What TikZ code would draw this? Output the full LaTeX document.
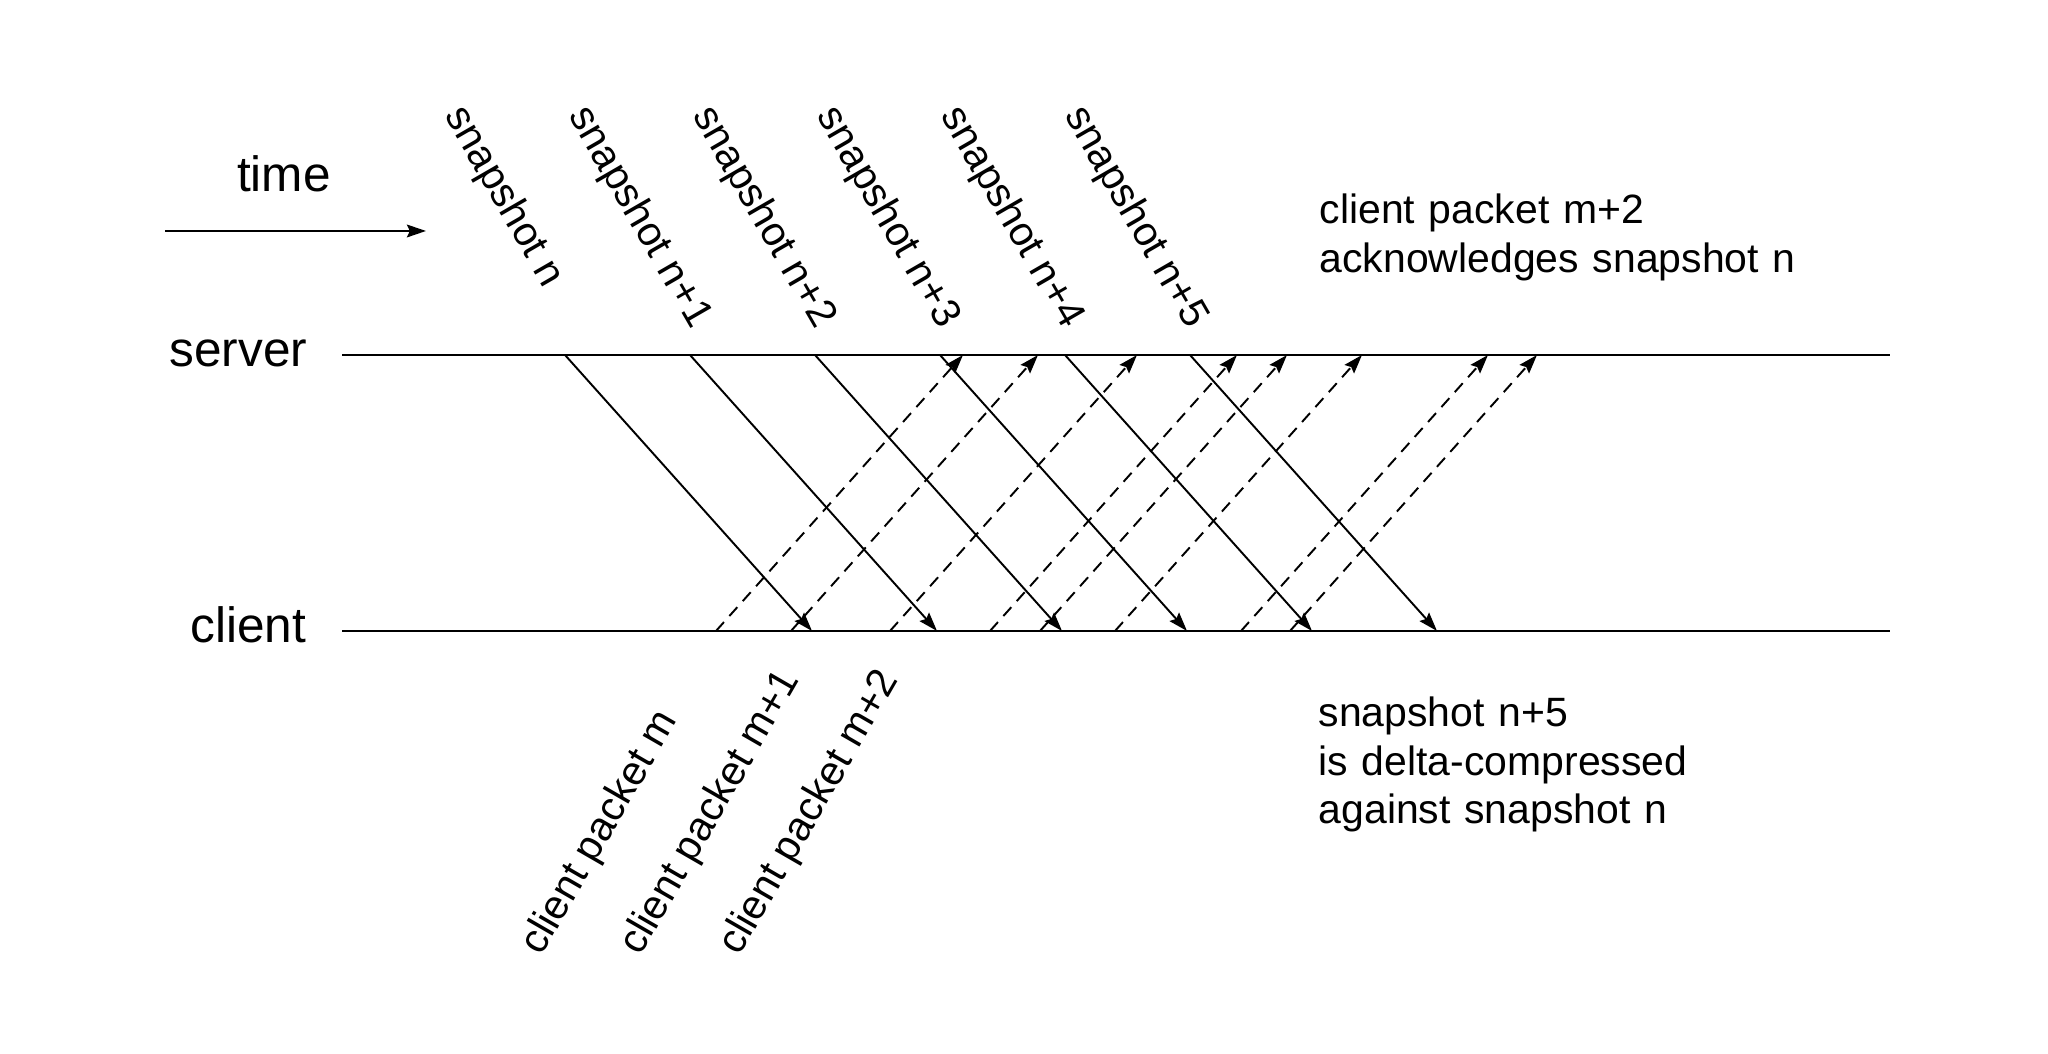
\documentclass[tikz,border=0pt]{standalone}
\usepackage{fontspec}
\setmainfont{Liberation Sans}
\usetikzlibrary{arrows.meta}

\begin{document}
\begin{tikzpicture}[>={Stealth[length=5.4pt,width=3.6pt,inset=0.8pt]},
  big/.style={font=\fontsize{14.1}{16}\selectfont, inner sep=0pt},
  small/.style={font=\fontsize{11.65}{13.7}\selectfont, inner sep=0pt},
  lane/.style={line width=0.7pt},
  snap/.style={->, line width=0.55pt},
  ack/.style={->, line width=0.55pt, dash pattern=on 3.4pt off 2.3pt}]
  \useasboundingbox (0,0) rectangle (20.48,10.54);

  % time direction
  \coordinate (t0) at (1.65,8.23);
  \coordinate (t1) at (4.26,8.23);
  \draw[->, lane] (t0) -- (t1);
  \node[big, anchor=base] (time) at (2.84,8.62) {time};

  % the two timelines
  \node[big, anchor=base east] (server) at (3.08,6.87) {server};
  \node[big, anchor=base east] (client) at (3.07,4.11) {client};
  \coordinate (sL) at (3.42,6.99);
  \coordinate (sR) at (18.90,6.99);
  \coordinate (cL) at (3.42,4.23);
  \coordinate (cR) at (18.90,4.23);
  \draw[lane] (sL) -- (sR);
  \draw[lane] (cL) -- (cR);

  % snapshots going down to the client
  \foreach \i/\lbl in {0/n,1/n+1,2/n+2,3/n+3,4/n+4,5/n+5} {
    \coordinate (s\i) at ({5.65+1.25*\i},6.99);
    \coordinate (c\i) at ({8.12+1.25*\i},4.23);
    \draw[snap] (s\i) -- (c\i);
    \node[small, rotate=-60, anchor=west] (snap\i) at ({4.53+1.24*\i},9.44) {snapshot \lbl};
  }

  % client packets going up to the server
  \foreach \x [count=\k] in {7.16,7.91,8.90,9.90,10.40,11.15,12.41,12.90} {
    \coordinate (a\k) at (\x,4.23);
    \coordinate (b\k) at ({\x+2.47},6.99);
    \draw[ack] (a\k) -- (b\k);
  }
  \foreach \i/\lbl in {0/m,1/m+1,2/m+2}
    \node[small, rotate=60, anchor=west] (pkt\i) at ({5.32+0.99*\i},1.02) {client packet \lbl};

  % notes
  \node[small, text width=6cm, align=left, anchor=base west] (acknote) at (13.19,8.30)
    {client packet m+2\\acknowledges snapshot n};
  \node[small, text width=6cm, align=left, anchor=base west] (deltanote) at (13.18,3.27)
    {snapshot n+5\\is delta-compressed\\against snapshot n};
\end{tikzpicture}
\end{document}
